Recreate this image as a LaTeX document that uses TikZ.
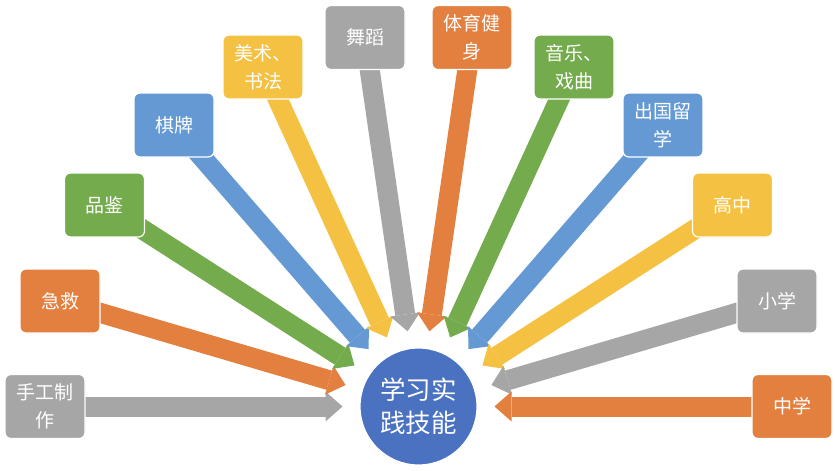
\documentclass[tikz,border=0pt]{standalone}
\usepackage{fontspec}
\newfontfamily\cjk{Noto Sans CJK SC}
\usetikzlibrary{arrows.meta,calc,backgrounds}
\definecolor{hui}{HTML}{A6A6A6}
\definecolor{cheng}{HTML}{E4803F}
\definecolor{lv}{HTML}{74AB4D}
\definecolor{lan}{HTML}{6499D3}
\definecolor{huang}{HTML}{F5C143}
\definecolor{shen}{HTML}{4A72C1}
\begin{document}
\begin{tikzpicture}[x=1pt,y=-1pt]
				\def\r{76}
				\tikzset{s/.style={draw=white,line width=1.2pt,rectangle,rounded corners=6pt,minimum width=80pt,minimum height=64pt,inner sep=0pt,align=center,text=white,font=\cjk\fontsize{19}{28}\selectfont},
					a/.style={line width=20pt,-{Triangle[width=30pt,length=17pt,line width=0pt]}}}
				\useasboundingbox(0,0)rectangle(835,471);
				\node[circle,fill=shen,draw=white,line width=1.2pt,minimum size=117pt,inner sep=0pt,align=center,text=white,font=\cjk\fontsize{25.5}{33}\selectfont](O) at (418.5,406.5){学习实\\践技能};
				\path(45,406.5)node[s,fill=hui](A1){手工制\\作}
				(60,301)node[s,fill=cheng](A2){急救}
				(104.5,205)node[s,fill=lv](A3){品鉴}
				(174,125)node[s,fill=lan](A4){棋牌}
				(263,67)node[s,fill=huang](A5){美术、\\书法}
				(365,37.5)node[s,fill=hui](A6){舞蹈}
				(472,37.5)node[s,fill=cheng](A7){体育健\\身}
				(574,67)node[s,fill=lv](A8){音乐、\\戏曲}
				(663,125)node[s,fill=lan](A9){出国留\\学}
				(732.5,205)node[s,fill=huang](A10){高中}
				(777,301)node[s,fill=hui](A11){小学}
				(792,406.5)node[s,fill=cheng](A12){中学};
				%%Mui ten
				\begin{scope}[on background layer]
				\foreach \x/\c in {
					A1/hui,A2/cheng,A3/lv,A4/lan,A5/huang,A6/hui,
					A7/cheng,A8/lv,A9/lan,A10/huang,A11/hui,A12/cheng}
				\draw[a,\c](\x.center)--($(O)!\r pt!(\x)$);
				\end{scope}
			\end{tikzpicture}
\end{document}
